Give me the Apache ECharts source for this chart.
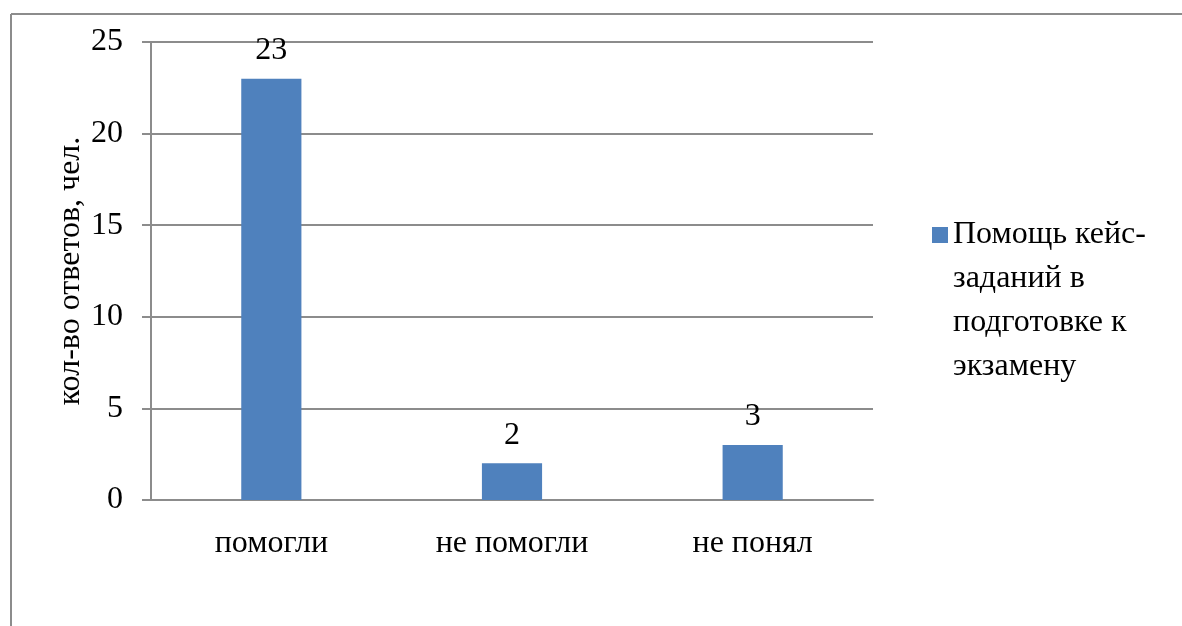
<!DOCTYPE html>
<html><head><meta charset="utf-8">
<script src="https://cdn.jsdelivr.net/npm/echarts@6/dist/echarts.min.js"></script>
<style>html,body{margin:0;padding:0;background:#fff}#c{width:1182px;height:626px}</style>
</head><body><div id="c"></div>
<script>
const categories = ['помогли', 'не помогли', 'не понял'];
const values = [23, 2, 3];
const seriesName = 'Помощь кейс-заданий в подготовке к экзамену';
const legendLines = ['Помощь кейс-', 'заданий в', 'подготовке к', 'экзамену'];
const yAxisName = 'кол-во ответов, чел.';
const font = '"Liberation Serif", "Times New Roman", serif';

const chart = echarts.init(document.getElementById('c'));
chart.setOption({
  backgroundColor: '#fff',
  animation: false,
  textStyle: { fontFamily: font },
  graphic: [
    { type: 'line', shape: { x1: 11, y1: 14, x2: 1182, y2: 14 }, style: { stroke: '#8c8c8c', lineWidth: 2 } },
    { type: 'line', shape: { x1: 11, y1: 14, x2: 11, y2: 626 }, style: { stroke: '#8c8c8c', lineWidth: 2 } }
  ],
  grid: { left: 151, right: 309, top: 42, bottom: 126 },
  legend: {
    left: 932, top: 81, padding: 0,
    itemWidth: 16, itemHeight: 16, itemGap: 0,
    icon: 'rect',
    formatter: () => '\n\n\n' + legendLines.join('\n'),
    textStyle: { fontFamily: font, fontSize: 32, color: '#000', lineHeight: 44 }
  },
  xAxis: {
    type: 'category', data: categories,
    axisLine: { lineStyle: { color: '#8c8c8c', width: 2 } },
    axisTick: { show: false },
    axisLabel: { color: '#000', fontSize: 32, fontFamily: font, margin: 28 }
  },
  yAxis: {
    type: 'value', min: 0, max: 25, interval: 5,
    name: yAxisName, nameLocation: 'middle', nameGap: 64, nameMoveOverlap: false,
    nameTextStyle: { color: '#000', fontSize: 32, fontFamily: font },
    axisLine: { show: true, lineStyle: { color: '#8c8c8c', width: 2 } },
    axisTick: { show: true, length: 9, lineStyle: { color: '#8c8c8c', width: 2 } },
    splitLine: { lineStyle: { color: '#8c8c8c', width: 2 } },
    axisLabel: { color: '#000', fontSize: 32, fontFamily: font, margin: 28 }
  },
  series: [{
    type: 'bar', name: seriesName, data: values, barWidth: '25%',
    itemStyle: { color: '#4F81BD' },
    label: { show: true, position: 'top', distance: 12, color: '#000', fontSize: 32, fontFamily: font }
  }]
});
</script></body></html>
